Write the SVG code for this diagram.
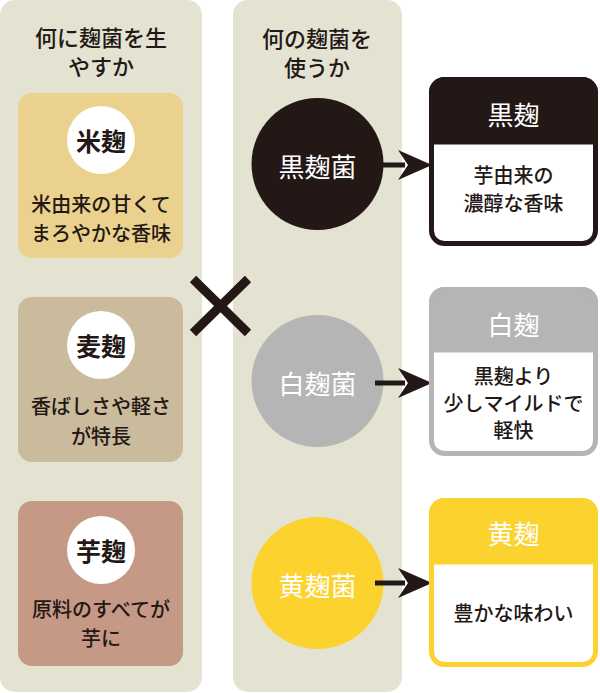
<svg xmlns="http://www.w3.org/2000/svg" width="600" height="693" viewBox="0 0 600 693">
<defs>
<style>
text{font-family:"Noto Sans CJK JP","Noto Sans",sans-serif;text-anchor:middle;dominant-baseline:central;}
.hd{font-size:22px;font-weight:500;fill:#231815;}
.ct{font-size:25px;font-weight:bold;fill:#231815;}
.bd{font-size:20px;font-weight:500;fill:#231815;}
.cw{font-size:26px;fill:#ffffff;}
.bh{font-size:26px;fill:#ffffff;}
.panel{fill:#e4e3d2;}
.arrow{stroke:#231815;stroke-width:5;fill:none;}
.head{fill:#231815;}
</style>
</defs>
<rect class="panel" x="0" y="0" width="202" height="692" rx="15"/>
<rect class="panel" x="233" y="0" width="169" height="692" rx="15"/>
<g id="header-left">
<text class="hd" x="101" y="36">何に麹菌を生</text>
<text class="hd" x="101" y="65">やすか</text>
</g>
<g id="header-mid">
<text class="hd" x="317" y="37">何の麹菌を</text>
<text class="hd" x="317" y="66">使うか</text>
</g>
<g id="kome">
<rect x="18" y="93" width="165" height="165" rx="14" fill="#ead28e"/>
<circle cx="101" cy="140" r="34" fill="#ffffff"/>
<text class="ct" x="101" y="140">米麹</text>
<text class="bd" x="101" y="203">米由来の甘くて</text>
<text class="bd" x="101" y="232">まろやかな香味</text>
</g>
<g id="mugi">
<rect x="18" y="297" width="165" height="165" rx="14" fill="#cabb9c"/>
<circle cx="101" cy="345" r="34" fill="#ffffff"/>
<text class="ct" x="101" y="345">麦麹</text>
<text class="bd" x="101" y="405">香ばしさや軽さ</text>
<text class="bd" x="101" y="435">が特長</text>
</g>
<g id="imo">
<rect x="18" y="501" width="165" height="165" rx="14" fill="#c59985"/>
<circle cx="101" cy="550" r="34" fill="#ffffff"/>
<text class="ct" x="101" y="550">芋麹</text>
<text class="bd" x="101" y="608">原料のすべてが</text>
<text class="bd" x="101" y="637">芋に</text>
</g>
<g id="cross" stroke="#231815" stroke-width="9">
<line x1="193" y1="279" x2="248" y2="333"/>
<line x1="248" y1="279" x2="193" y2="333"/>
</g>
<g id="kurokoujikin">
<circle cx="317.5" cy="164" r="66" fill="#231815"/>
<text class="cw" x="317.5" y="165">黒麹菌</text>
</g>
<g id="shirokoujikin">
<circle cx="317.5" cy="381" r="66" fill="#b5b5b5"/>
<text class="cw" x="317.5" y="382">白麹菌</text>
</g>
<g id="kikoujikin">
<circle cx="317.5" cy="583" r="66" fill="#fcd22e"/>
<text class="cw" x="317.5" y="584">黄麹菌</text>
</g>
<g id="connectors">
<line class="arrow" x1="375" y1="165" x2="405" y2="165"/>
<path class="head" d="M432,165 L398,150 L408,165 L398,180 Z"/>
<line class="arrow" x1="375" y1="383" x2="405" y2="383"/>
<path class="head" d="M432,383 L398,368 L408,383 L398,398 Z"/>
<line class="arrow" x1="375" y1="583" x2="405" y2="583"/>
<path class="head" d="M432,583 L398,568 L408,583 L398,598 Z"/>
</g>
<g id="kurokouji">
<rect x="431.5" y="79.5" width="164" height="164" rx="13" fill="#ffffff" stroke="#231815" stroke-width="5"/>
<path d="M431.5,142 V92.5 A13,13 0 0 1 444.5,79.5 H582.5 A13,13 0 0 1 595.5,92.5 V142 Z" fill="#231815" stroke="#231815" stroke-width="5"/>
<text class="bh" x="513.5" y="113">黒麹</text>
<text class="bd" x="513.5" y="174">芋由来の</text>
<text class="bd" x="513.5" y="202">濃醇な香味</text>
</g>
<g id="shirokouji">
<rect x="431.5" y="289.5" width="164" height="164" rx="13" fill="#ffffff" stroke="#b5b5b5" stroke-width="5"/>
<path d="M431.5,350 V302.5 A13,13 0 0 1 444.5,289.5 H582.5 A13,13 0 0 1 595.5,302.5 V350 Z" fill="#b5b5b5" stroke="#b5b5b5" stroke-width="5"/>
<text class="bh" x="513.5" y="323">白麹</text>
<text class="bd" x="513.5" y="375">黒麹より</text>
<text class="bd" x="513.5" y="402">少しマイルドで</text>
<text class="bd" x="513.5" y="429">軽快</text>
</g>
<g id="kikouji">
<rect x="431.5" y="500.5" width="164" height="164" rx="13" fill="#ffffff" stroke="#fcd22e" stroke-width="5"/>
<path d="M431.5,562 V513.5 A13,13 0 0 1 444.5,500.5 H582.5 A13,13 0 0 1 595.5,513.5 V562 Z" fill="#fcd22e" stroke="#fcd22e" stroke-width="5"/>
<text class="bh" x="513.5" y="532">黄麹</text>
<text class="bd" x="513.5" y="612">豊かな味わい</text>
</g>
</svg>
